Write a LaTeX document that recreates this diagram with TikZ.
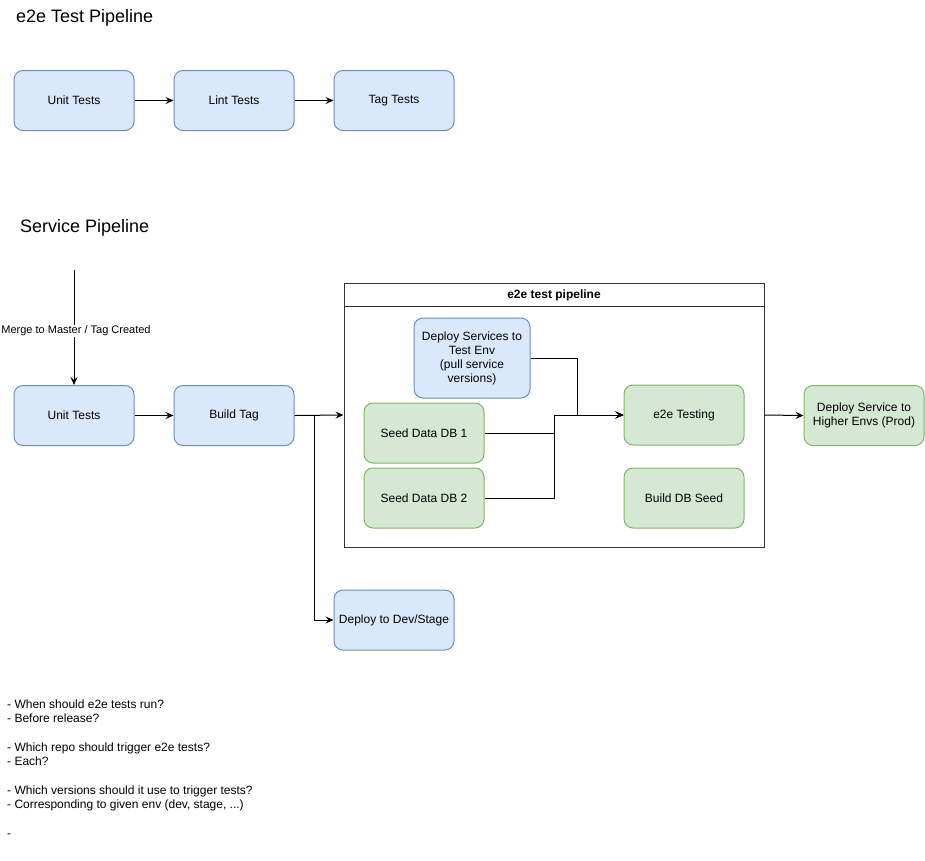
\documentclass[tikz,border=0pt]{standalone}
\usepackage{fontspec}
\setmainfont{Liberation Sans}
\usetikzlibrary{arrows.meta,positioning,calc}
\definecolor{bfill}{HTML}{DAE8FC}
\definecolor{bline}{HTML}{6C8EBF}
\definecolor{gfill}{HTML}{D5E8D4}
\definecolor{gline}{HTML}{82B366}
\begin{document}
\begin{tikzpicture}[x=1pt,y=-1pt,
  box/.style={draw, rounded corners=9pt, minimum width=120pt, minimum height=60pt, align=center, font=\fontsize{12}{14}\selectfont, line width=1pt},
  bluebox/.style={box, fill=bfill, draw=bline},
  greenbox/.style={box, fill=gfill, draw=gline},
  arr/.style={-{Stealth[length=8pt,width=7pt,inset=3pt]}, line width=1pt},
  ttl/.style={anchor=west, font=\fontsize{18}{21}\selectfont, inner sep=0pt}
]
\useasboundingbox (0,0) rectangle (925,860);
% titles
\node[ttl] (t1) at (16,17.5) {e2e Test Pipeline};
\node[ttl] (t2) at (20,227.5) {Service Pipeline};
% top pipeline
\node[bluebox] (u1) at (74,100.5) {Unit Tests};
\node[bluebox] (l1) at (234,100.5) {Lint Tests};
\node[bluebox] (g1) at (394,100.5) {Tag Tests};
\draw[arr] (u1) -- (l1);
\draw[arr] (l1) -- (g1);
% service pipeline
\coordinate (start) at (74,270);
\node[bluebox] (u2) at (74,415.5) {Unit Tests};
\node[bluebox] (bt) at (234,415.5) {Build Tag};
\draw[arr] (start) -- node[fill=white, inner sep=1pt, font=\fontsize{11}{13}\selectfont, pos=0.53, xshift=2pt] (ml) {Merge to Master / Tag Created} (u2.north);
\draw[arr] (u2) -- (bt);
% container
\node[draw=black!80, line width=1pt, minimum width=420pt, minimum height=264pt, inner sep=0pt] (ct) at (554,415) {};
\draw[black!80, line width=1pt] (344,306) -- (764,306);
\node[font=\bfseries\fontsize{12}{14}\selectfont] (cth) at (554,295.5) {e2e test pipeline};
\node[bluebox, minimum width=116pt, minimum height=80pt] (ds) at (472,358) {Deploy Services to\\Test Env\\(pull service\\versions)};
\node[greenbox] (s1) at (424,433) {Seed Data DB 1};
\node[greenbox] (s2) at (424,498) {Seed Data DB 2};
\node[greenbox] (et) at (684,415) {e2e Testing};
\node[greenbox] (bs) at (684,498) {Build DB Seed};
\coordinate (j1) at (577,415);
\coordinate (j2) at (554,415);
\draw[arr] (ds.east) -| (j1) -- (et.west);
\draw[arr] (s1.east) -| (j2) -- (et.west);
\draw[arr] (s2.east) -| (j2) -- (et.west);
\draw[arr] (bt.east) -- (ct.west);
\node[bluebox] (dd) at (394,620) {Deploy to Dev/Stage};
\draw[arr] (bt.east) -- ++(20,0) |- (dd.west);
\node[greenbox] (hp) at (864,415.5) {Deploy Service to\\Higher Envs (Prod)};
\draw[arr] (ct.east) -- (hp.west);
% notes
\node[anchor=north west, align=left, inner sep=0pt, font=\fontsize{12}{14.3}\selectfont] (notes) at (7,699.5)
{- When should e2e tests run?\\
- Before release?\\[14.3pt]
- Which repo should trigger e2e tests?\\
- Each?\\[14.3pt]
- Which versions should it use to trigger tests?\\
- Corresponding to given env (dev, stage, ...)\\[14.3pt]
-};
\end{tikzpicture}
\end{document}
